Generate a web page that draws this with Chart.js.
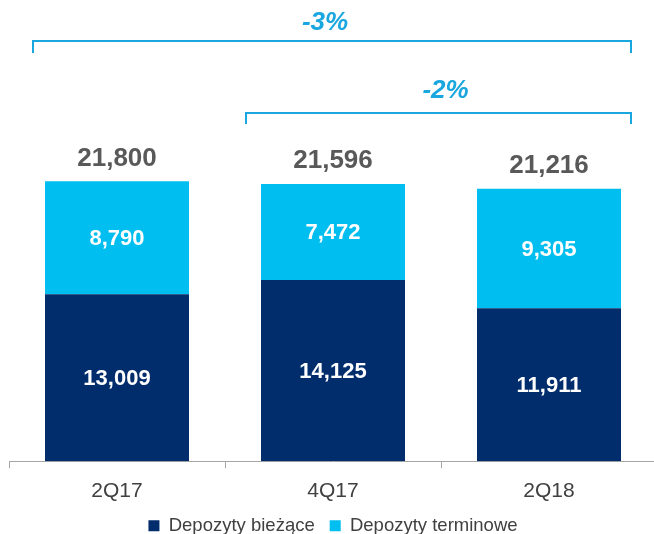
<!DOCTYPE html>
<html>
<head>
<meta charset="utf-8">
<script src="https://cdn.jsdelivr.net/npm/chart.js@4"></script>
<style>
  html, body { margin: 0; padding: 0; background: #fff; overflow: hidden; }
  #wrap { width: 654px; height: 534px; overflow: hidden; }
</style>
</head>
<body>
<div id="wrap"><canvas id="chart" width="657" height="545"></canvas></div>
<script>
const categories = ['2Q17', '4Q17', '2Q18'];
const biezace = [13009, 14125, 11911];
const terminowe = [8790, 7472, 9305];
const totals = [21800, 21596, 21216];

// growth brackets: from category index -> to category index
const changeLabels = ['-3%', '-2%'];
const changeFrom = [0, 1];
const changeTo = [2, 2];

const FONT = '"Liberation Sans", Arial, sans-serif';
const NAVY = '#012d6d';
const CYAN = '#00bef0';
const BRACKET = '#1aa6df';

const fmt = v => v.toLocaleString('en-US');

const labelsPlugin = {
  id: 'labels',
  afterDatasetsDraw(chart) {
    const ctx = chart.ctx;
    ctx.save();
    ctx.textAlign = 'center';
    ctx.textBaseline = 'middle';

    // values inside segments
    ctx.fillStyle = '#fff';
    ctx.font = 'bold 22px ' + FONT;
    chart.data.datasets.forEach((ds, di) => {
      chart.getDatasetMeta(di).data.forEach((bar, i) => {
        ctx.fillText(fmt(ds.data[i]), bar.x, (bar.y + bar.base) / 2 + 1);
      });
    });

    // totals above bars
    const top = chart.getDatasetMeta(1).data;
    ctx.fillStyle = '#595959';
    ctx.font = 'bold 26px ' + FONT;
    top.forEach((bar, i) => {
      ctx.fillText(fmt(totals[i]), bar.x, bar.y - 23);
    });

    // brackets
    const rows = [
      { y: 41, tick: 12, textY: 23, padL: 12, dx: -7 },
      { y: 113, tick: 11, textY: 91, padL: 15, dx: 7 }
    ];
    ctx.strokeStyle = BRACKET;
    ctx.lineWidth = 2;
    changeLabels.forEach((lbl, k) => {
      const a = top[changeFrom[k]], b = top[changeTo[k]];
      const r = rows[k];
      const x0 = a.x - a.width / 2 - r.padL;
      const x1 = b.x + b.width / 2 + 10;
      ctx.beginPath();
      ctx.moveTo(x0, r.y + r.tick);
      ctx.lineTo(x0, r.y);
      ctx.lineTo(x1, r.y);
      ctx.lineTo(x1, r.y + r.tick);
      ctx.stroke();
      ctx.fillStyle = BRACKET;
      ctx.font = 'italic bold 26px ' + FONT;
      ctx.fillText(lbl, (x0 + x1) / 2 + r.dx, r.textY);
    });
    ctx.restore();
  }
};

new Chart(document.getElementById('chart'), {
  type: 'bar',
  data: {
    labels: categories,
    datasets: [
      { label: 'Depozyty bieżące', data: biezace, backgroundColor: NAVY },
      { label: 'Depozyty terminowe', data: terminowe, backgroundColor: CYAN }
    ]
  },
  options: {
    responsive: false,
    animation: false,
    devicePixelRatio: 1,
    categoryPercentage: 1,
    barPercentage: 2 / 3,
    layout: { padding: { top: 76, left: 9, right: 0, bottom: 0 } },
    plugins: {
      tooltip: { enabled: false },
      legend: {
        position: 'bottom',
        labels: {
          boxWidth: 11,
          boxHeight: 11,
          padding: 15,
          color: '#404040',
          font: { family: FONT, size: 18.5 }
        }
      }
    },
    scales: {
      x: {
        stacked: true,
        border: { display: true, color: '#a6a6a6', width: 1 },
        grid: { display: true, drawOnChartArea: false, drawTicks: true, tickLength: 7, color: '#a6a6a6' },
        ticks: { color: '#404040', padding: 10, font: { family: FONT, size: 21 } },
        afterFit(axis) { axis.height -= 12; }
      },
      y: {
        stacked: true,
        display: false,
        min: 0,
        max: 30000
      }
    }
  },
  plugins: [labelsPlugin]
});
</script>
</body>
</html>
